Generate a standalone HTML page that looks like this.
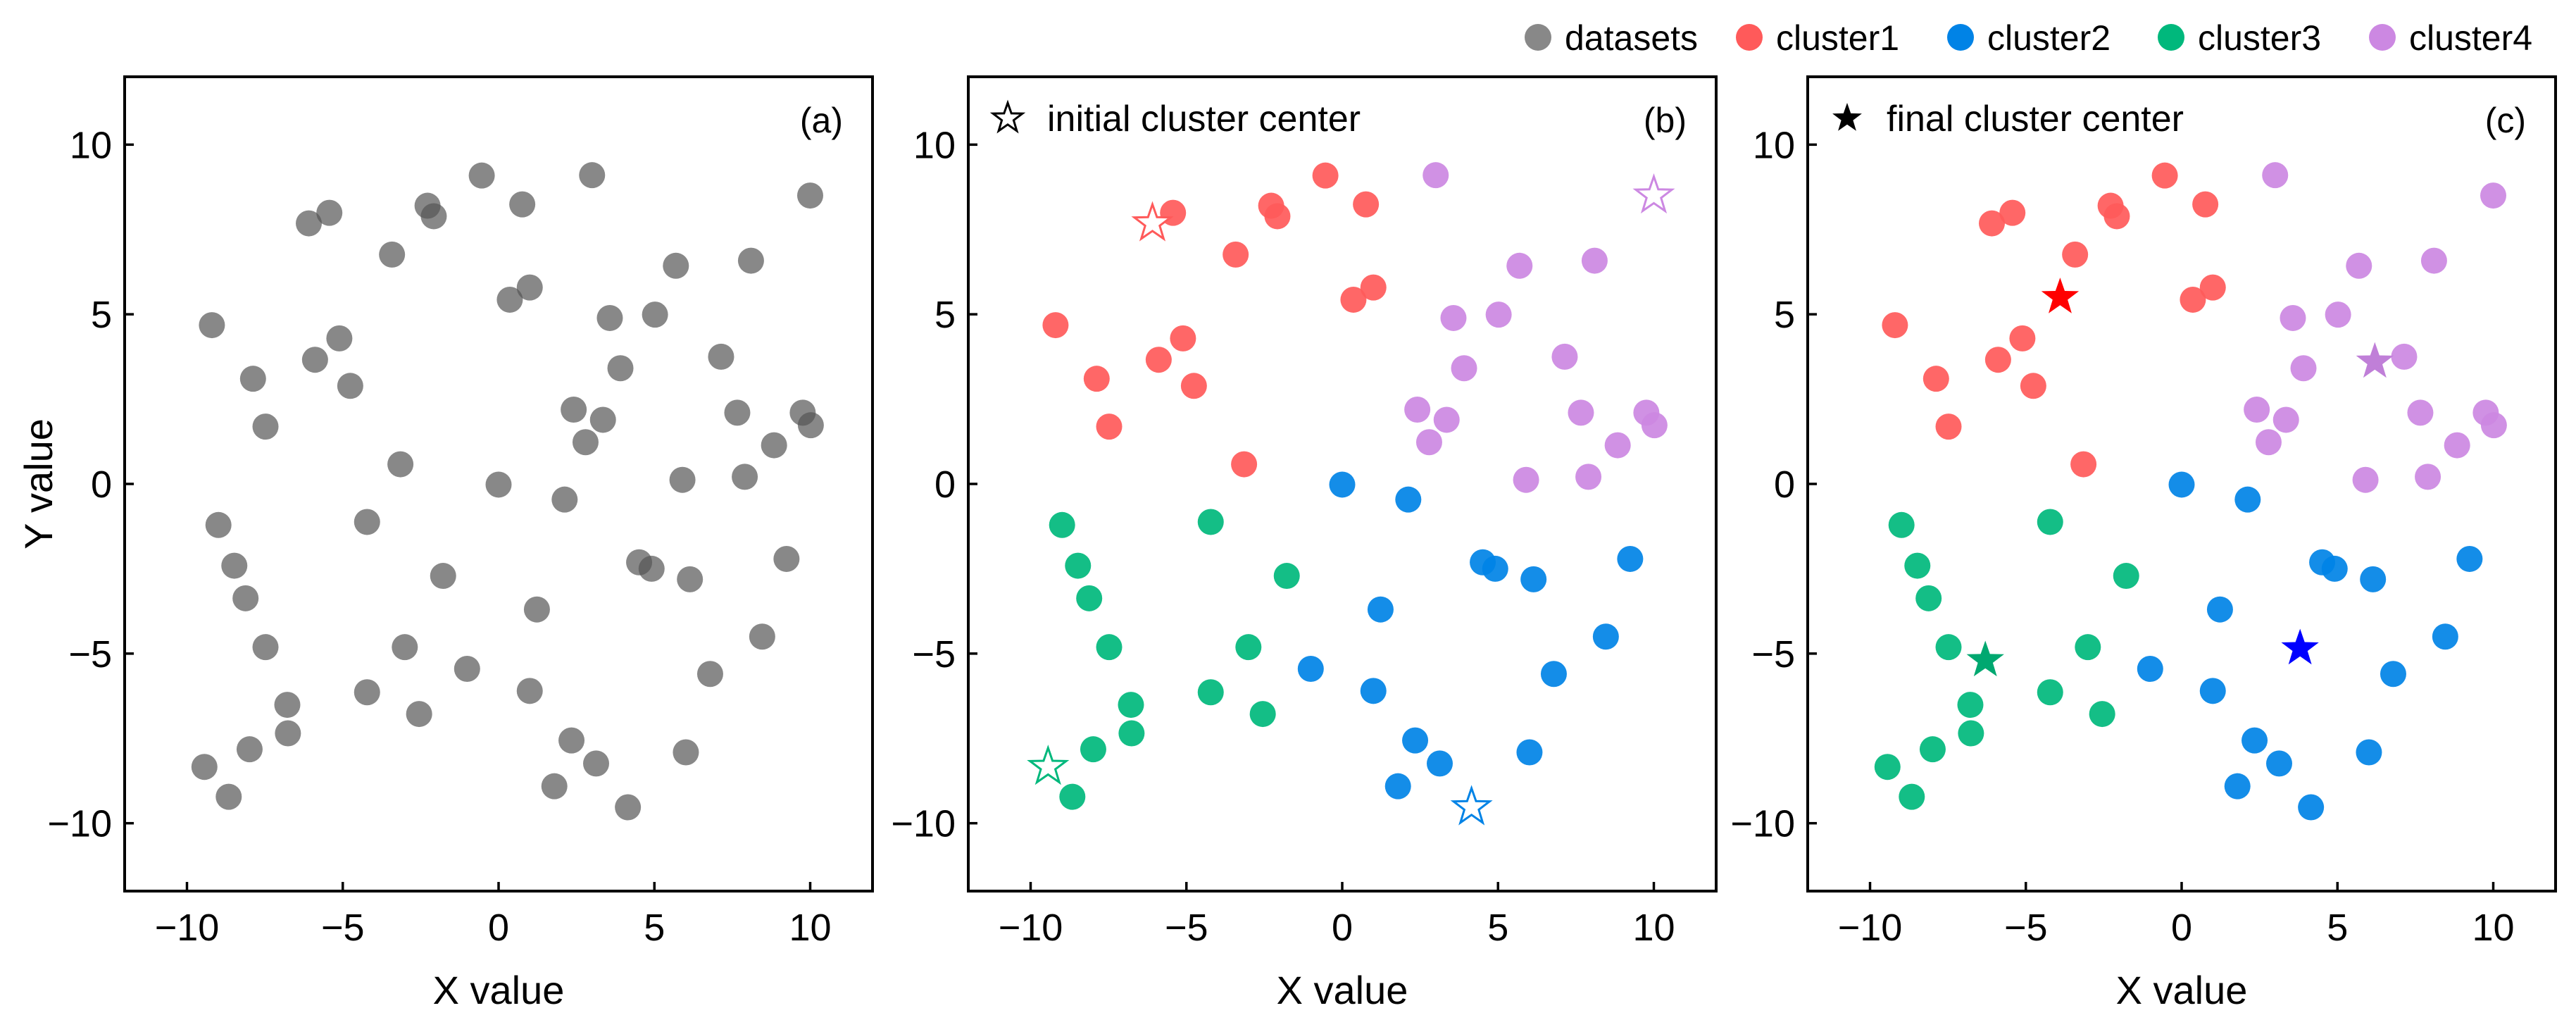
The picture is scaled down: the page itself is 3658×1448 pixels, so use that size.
<!DOCTYPE html>
<html><head><meta charset="utf-8"><style>
html,body{margin:0;padding:0;background:#fff;}
svg{display:block;font-family:"Liberation Sans",sans-serif;}
</style></head><body>
<svg id="fig" width="3658" height="1448" viewBox="0 0 3658 1448" xmlns="http://www.w3.org/2000/svg"></svg>
<script>
const xs=[-9.2,-6.09,-5.43,-2.28,-2.08,-0.54,0.76,-3.42,0.36,1.0,-5.11,-5.89,-4.76,-7.88,-7.48,-3.15,
 3.0,10.0,5.69,8.1,3.57,5.02,3.91,7.14,2.41,3.35,2.79,7.66,9.76,10.02,8.84,5.9,7.9,
 0,2.12,4.51,4.91,6.14,9.24,1.23,8.46,-1.01,1.0,6.79,1.79,2.34,3.13,6.01,4.15,
 -8.99,-4.22,-8.48,-1.78,-8.12,-7.48,-3.01,-4.22,-6.78,-6.76,-2.55,-7.99,-9.44,-8.66];
const ys=[4.68,7.68,7.99,8.2,7.89,9.09,8.24,6.76,5.43,5.79,4.29,3.66,2.89,3.1,1.69,0.58,
 9.1,8.5,6.43,6.58,4.89,4.99,3.41,3.75,2.19,1.89,1.23,2.1,2.1,1.73,1.14,0.12,0.21,
 -0.02,-0.46,-2.31,-2.5,-2.81,-2.21,-3.7,-4.5,-5.45,-6.1,-5.6,-8.91,-7.56,-8.24,-7.91,-9.53,
 -1.21,-1.12,-2.41,-2.71,-3.37,-4.81,-4.81,-6.14,-6.51,-7.35,-6.78,-7.82,-8.34,-9.22];
const labels=[1,1,1,1,1,1,1,1,1,1,1,1,1,1,1,1,
 4,4,4,4,4,4,4,4,4,4,4,4,4,4,4,4,4,
 2,2,2,2,2,2,2,2,2,2,2,2,2,2,2,2,
 3,3,3,3,3,3,3,3,3,3,3,3,3,3];
const initCx=[-6.09,4.15,-9.44,10.0];
const initCy=[7.68,-9.53,-8.34,8.5];
const finalCx=[-3.9,3.8,-6.3,6.2];
const finalCy=[5.5,-4.85,-5.2,3.6];
const ticks=[-10,-5,0,5,10];
const tickLabels=["\u221210","\u22125","0","5","10"];
const legendNames=["datasets","cluster1","cluster2","cluster3","cluster4"];

const colors=["#888888","#ff5a5a","#0083e6","#00b87c","#cc88e2"];
const starFinal=["#ff0000","#0000ff","#00a870","#c07fd8"];
const NS="http://www.w3.org/2000/svg";
const svg=document.getElementById('fig');
function mk(t,a,p){const e=document.createElementNS(NS,t);for(const k in a)e.setAttribute(k,a[k]);(p||svg).appendChild(e);return e;}
const panels=[{x0:177,l:"(a)"},{x0:1375,l:"(b)"},{x0:2567,l:"(c)"}];
const W=1062,H=1156,T=109;
function starPts(cx,cy,R){const r=R*0.4;let s=[];for(let i=0;i<10;i++){const a=-Math.PI/2+i*Math.PI/5;const rr=i%2?r:R;s.push((cx+rr*Math.cos(a)).toFixed(1)+","+(cy+rr*Math.sin(a)).toFixed(1));}return s.join(" ");}
function isInit(x,y){for(let k=0;k<initCx.length;k++){if(Math.abs(x-initCx[k])<0.05&&Math.abs(y-initCy[k])<0.05)return true;}return false;}
panels.forEach((p,pi)=>{
  const sx=v=>p.x0+(v+12)/24*W, sy=v=>T+(12-v)/24*H;
  const g=mk('g',{});
  
  
  for(let i=0;i<xs.length;i++){
    if(pi==1&&isInit(xs[i],ys[i]))continue;
    const c=mk('circle',{cx:sx(xs[i]),cy:sy(ys[i]),r:18.5,fill:pi==0?'#555':colors[labels[i]],'fill-opacity':pi==0?0.7:0.92},g);
    
    
  }
  if(pi==1){for(let k=0;k<4;k++){const s=mk('polygon',{points:starPts(sx(initCx[k]),sy(initCy[k]),27),fill:'#fff',stroke:colors[k+1],'stroke-width':3},g);
    
    }}
  if(pi==2){for(let k=0;k<4;k++){const s=mk('polygon',{points:starPts(sx(finalCx[k]),sy(finalCy[k]),28),fill:starFinal[k]},g);
    
    }}
  const fr=mk('rect',{x:p.x0,y:T,width:W,height:H,fill:'none',stroke:'#000','stroke-width':4},g);
  
  
  ticks.forEach((t,i)=>{
    mk('line',{x1:sx(t),x2:sx(t),y1:T+H,y2:T+H-13,stroke:'#000','stroke-width':3.5},g);
    mk('line',{x1:p.x0,x2:p.x0+13,y1:sy(t),y2:sy(t),stroke:'#000','stroke-width':3.5},g);
    const tx=mk('text',{x:sx(t),y:T+H+70,'text-anchor':'middle','font-size':54},g);tx.textContent=tickLabels[i];
    
    
    const ty=mk('text',{x:p.x0-18,y:sy(t)+19,'text-anchor':'end','font-size':54},g);ty.textContent=tickLabels[i];
    
    
  });
  const xt=mk('text',{x:p.x0+W/2,y:1425,'text-anchor':'middle','font-size':56},g);xt.textContent="X value";
  
  
  const pl=mk('text',{x:p.x0+W-42,y:188,'text-anchor':'end','font-size':50},g);pl.textContent=p.l;
  
  
  if(pi==0){const yt=mk('text',{x:0,y:0,'text-anchor':'middle','font-size':56,transform:'translate(74,687) rotate(-90)'},g);yt.textContent="Y value";
    
    }
  if(pi>0){
    const s=mk('polygon',{points:starPts(p.x0+56,168,22),fill:pi==2?'#000':'none',stroke:'#000','stroke-width':pi==2?0:3},g);
    
    
    const tt=mk('text',{x:p.x0+112,y:186,'font-size':52},g);tt.textContent=pi==1?"initial cluster center":"final cluster center";
    
    
  }
});
const lx=[2184,2484,2784,3083,3383];
legendNames.forEach((n,i)=>{
  const g=mk('g',{});
  
  
  mk('circle',{cx:lx[i],cy:53,r:19,fill:colors[i]},g);
  const t=mk('text',{x:lx[i]+38,y:71,'font-size':50},g);t.textContent=n;
});
</script>
</body></html>
